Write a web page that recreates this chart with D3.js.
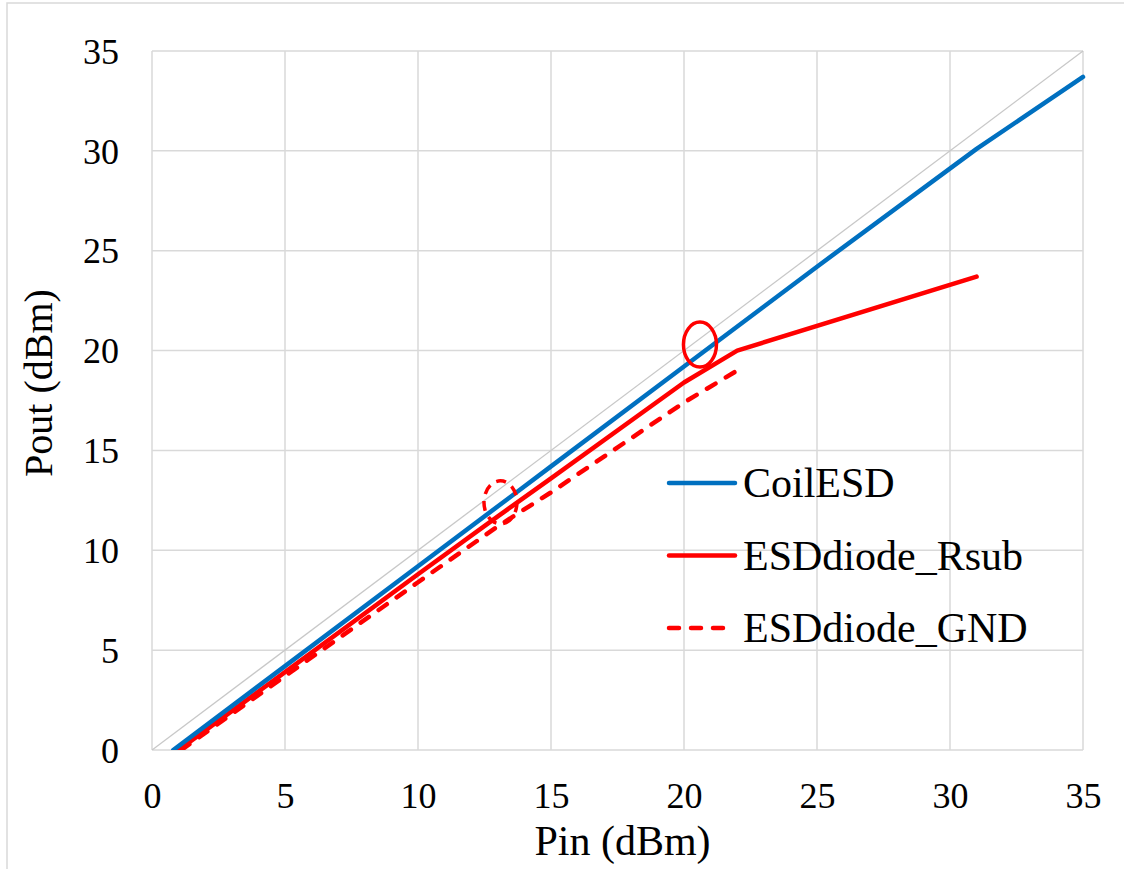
<!DOCTYPE html>
<html>
<head>
<meta charset="utf-8">
<script src="https://cdn.jsdelivr.net/npm/d3@7"></script>
<style>
  html, body { margin: 0; padding: 0; background: #fff; }
  svg { display: block; }
  svg text { font-family: "Times New Roman", "Liberation Serif", Tinos, "DejaVu Serif", serif !important; fill: #000; }
</style>
</head>
<body>
<div id="chart"></div>
<script>
// ---- data ----
const xTicks = [0, 5, 10, 15, 20, 25, 30, 35];
const yTicks = [0, 5, 10, 15, 20, 25, 30, 35];
const seriesNames = ["CoilESD", "ESDdiode_Rsub", "ESDdiode_GND"];

const coilPin  = [0.8, 5, 10, 15, 20, 25, 31, 35];
const coilPout = [0, 4.2, 9.2, 14.2, 19.2, 24.2, 30.1, 33.7];

const rsubPin  = [1.0, 5, 10, 13, 15, 20, 22, 31];
const rsubPout = [0, 3.9, 8.8, 11.7, 13.6, 18.4, 20.0, 23.7];

const gndPin   = [1.1, 5, 10, 13, 15, 20, 22];
const gndPout  = [0, 3.7, 8.4, 11.2, 12.9, 17.4, 19.0];

const refLine  = [0, 35];            // Pout = Pin reference diagonal
const markPin  = [20.6, 13.1];       // annotation ellipses
const markPout = [20.3, 12.4];
const markDash = [false, true];

// ---- layout ----
const W = 1124, H = 869;
const L = 152, R = 1083, T = 51, B = 750;
const FONT = '"Times New Roman", "Liberation Serif", Tinos, "DejaVu Serif", serif';

const svg = d3.select("#chart").append("svg").attr("width", W).attr("height", H)
  .attr("font-family", FONT);

// outer chart border
svg.append("rect").attr("x", 7).attr("y", 3).attr("width", W + 20).attr("height", H + 20)
  .attr("fill", "none").attr("stroke", "#d9d9d9").attr("stroke-width", 1.5);

const x = d3.scaleLinear().domain([0, 35]).range([L, R]);
const y = d3.scaleLinear().domain([0, 35]).range([B, T]);

// gridlines
svg.append("g").selectAll("line").data(xTicks).join("line")
  .attr("x1", d => x(d)).attr("x2", d => x(d)).attr("y1", T).attr("y2", B)
  .attr("stroke", "#d9d9d9").attr("stroke-width", 1.5);
svg.append("g").selectAll("line").data(yTicks).join("line")
  .attr("y1", d => y(d)).attr("y2", d => y(d)).attr("x1", L).attr("x2", R)
  .attr("stroke", "#d9d9d9").attr("stroke-width", 1.5);

// axes (labels only)
const xAxis = svg.append("g").attr("transform", `translate(0,${B})`)
  .call(d3.axisBottom(x).tickValues(xTicks).tickSize(0).tickPadding(0).tickFormat(d3.format("d")));
xAxis.attr("font-family", FONT);
xAxis.select(".domain").remove();
xAxis.selectAll("text").attr("font-size", 36).attr("dy", null).attr("y", 58);

const yAxis = svg.append("g").attr("transform", `translate(${L},0)`)
  .call(d3.axisLeft(y).tickValues(yTicks).tickSize(0).tickPadding(0).tickFormat(d3.format("d")));
yAxis.attr("font-family", FONT);
yAxis.select(".domain").remove();
yAxis.selectAll("text").attr("font-size", 36).attr("dy", "0.34em").attr("x", -33);

// clip
svg.append("clipPath").attr("id", "plotclip").append("rect")
  .attr("x", L).attr("y", T - 5).attr("width", R - L + 3).attr("height", B - T + 5);

const plot = svg.append("g").attr("clip-path", "url(#plotclip)");

// reference diagonal
plot.append("line")
  .attr("x1", x(refLine[0])).attr("y1", y(refLine[0]))
  .attr("x2", x(refLine[1])).attr("y2", y(refLine[1]))
  .attr("stroke", "#c8c8c8").attr("stroke-width", 1.3);

const line = d3.line().x(d => x(d[0])).y(d => y(d[1]));
const zip = (a, b) => a.map((v, i) => [v, b[i]]);

plot.append("path").datum(zip(gndPin, gndPout)).attr("d", line)
  .attr("fill", "none").attr("stroke", "#ff0000").attr("stroke-width", 4.5)
  .attr("stroke-dasharray", "10,12").attr("stroke-linecap", "round");
plot.append("path").datum(zip(rsubPin, rsubPout)).attr("d", line)
  .attr("fill", "none").attr("stroke", "#ff0000").attr("stroke-width", 4.5)
  .attr("stroke-linejoin", "round").attr("stroke-linecap", "round");
plot.append("path").datum(zip(coilPin, coilPout)).attr("d", line)
  .attr("fill", "none").attr("stroke", "#0070c0").attr("stroke-width", 4.5)
  .attr("stroke-linejoin", "round").attr("stroke-linecap", "round");

// annotation ellipses
svg.append("g").selectAll("ellipse").data(markPin.map((p, i) => ({p, q: markPout[i], dash: markDash[i]})))
  .join("ellipse")
  .attr("cx", d => x(d.p)).attr("cy", d => y(d.q))
  .attr("rx", 16.5).attr("ry", d => d.dash ? 21.5 : 22.5)
  .attr("fill", "none").attr("stroke", "#ff0000").attr("stroke-width", 3.5)
  .attr("stroke-dasharray", d => d.dash ? "10,7" : null);

// legend
const legY0 = 483, legStep = 72.5;
const legStyles = [
  {color: "#0070c0", dash: null},
  {color: "#ff0000", dash: null},
  {color: "#ff0000", dash: "10,12"}
];
const leg = svg.append("g");
seriesNames.forEach((name, i) => {
  const yy = legY0 + i * legStep;
  leg.append("line").attr("x1", 669).attr("x2", 735).attr("y1", yy).attr("y2", yy)
    .attr("stroke", legStyles[i].color).attr("stroke-width", 4.5)
    .attr("stroke-linecap", "round").attr("stroke-dasharray", legStyles[i].dash);
  leg.append("text").attr("x", 743).attr("y", yy + 14).attr("font-size", 42).text(name);
});

// axis titles
svg.append("text").attr("x", (L + R) / 2 + 5).attr("y", 855).attr("text-anchor", "middle")
  .attr("font-size", 42).text("Pin (dBm)");
svg.append("text").attr("transform", `translate(52,383) rotate(-90)`).attr("text-anchor", "middle")
  .attr("font-size", 40).text("Pout (dBm)");
</script>
</body>
</html>
